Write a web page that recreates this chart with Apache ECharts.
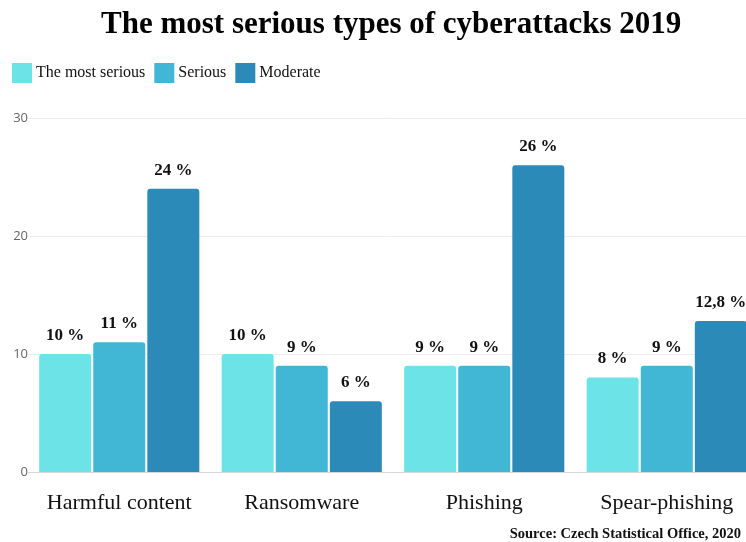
<!DOCTYPE html>
<html>
<head>
<meta charset="utf-8">
<script src="https://cdn.jsdelivr.net/npm/echarts@6/dist/echarts.min.js"></script>
<style>
  html, body { margin: 0; padding: 0; background: #fff; }
  #chart { width: 746px; height: 542px; }
</style>
</head>
<body>
<div id="chart"></div>
<script>
// Attack types and shares (%) by severity rating
const categories = ['Harmful content', 'Ransomware', 'Phishing', 'Spear-phishing'];
const mostSerious = [10, 10, 9, 8];
const serious = [11, 9, 9, 9];
const moderate = [24, 6, 26, 12.8];
const seriesNames = ['The most serious', 'Serious', 'Moderate'];
const yTicks = { min: 0, max: 30, interval: 10 };

const colors = ['#6ce4e7', '#41b6d5', '#2b8ab8'];
const serif = '"Liberation Serif", "DejaVu Serif", serif';

function pct(v) {
  return String(v).replace('.', ',') + ' %';
}

function makeSeries(name, data, color) {
  return {
    name: name,
    type: 'bar',
    data: data,
    barWidth: 52,
    barGap: '4%',
    itemStyle: { color: color, borderRadius: [3, 3, 0, 0] },
    label: {
      show: true,
      position: 'top',
      distance: 10,
      formatter: p => pct(p.value),
      fontFamily: serif,
      fontWeight: 'bold',
      fontSize: 17,
      color: '#111'
    }
  };
}

const chart = echarts.init(document.getElementById('chart'));
chart.setOption({
  animation: false,
  title: [{
    text: 'The most serious types of cyberattacks 2019',
    left: 96,
    top: 4,
    textStyle: { fontFamily: serif, fontWeight: 'bold', fontSize: 31, color: '#000' }
  }, {
    text: 'Source: Czech Statistical Office, 2020',
    right: 0,
    top: 522,
    textStyle: { fontFamily: serif, fontWeight: 'bold', fontSize: 14.5, color: '#111' }
  }],
  legend: {
    left: 7,
    top: 58,
    itemWidth: 20,
    itemHeight: 20,
    itemGap: 9,
    icon: 'rect',
    textStyle: { fontFamily: serif, fontSize: 16, color: '#111', padding: [0, 0, 0, -1] },
    data: seriesNames
  },
  color: colors,
  grid: { left: 28, width: 730, top: 118, bottom: 70, containLabel: false, outerBoundsMode: 'none' },
  xAxis: {
    type: 'category',
    data: categories,
    axisLine: { lineStyle: { color: '#d8d8d8' } },
    axisTick: { show: false },
    axisLabel: { fontFamily: serif, fontSize: 22, color: '#111', margin: 20, interval: 0 }
  },
  yAxis: {
    type: 'value',
    min: yTicks.min,
    max: yTicks.max,
    interval: yTicks.interval,
    axisLabel: { fontFamily: '"Open Sans", sans-serif', fontSize: 13, color: '#666', margin: 0, align: 'right' },
    splitLine: { lineStyle: { color: '#ececec' } }
  },
  series: [
    makeSeries(seriesNames[0], mostSerious, colors[0]),
    makeSeries(seriesNames[1], serious, colors[1]),
    makeSeries(seriesNames[2], moderate, colors[2])
  ]
});
</script>
</body>
</html>
